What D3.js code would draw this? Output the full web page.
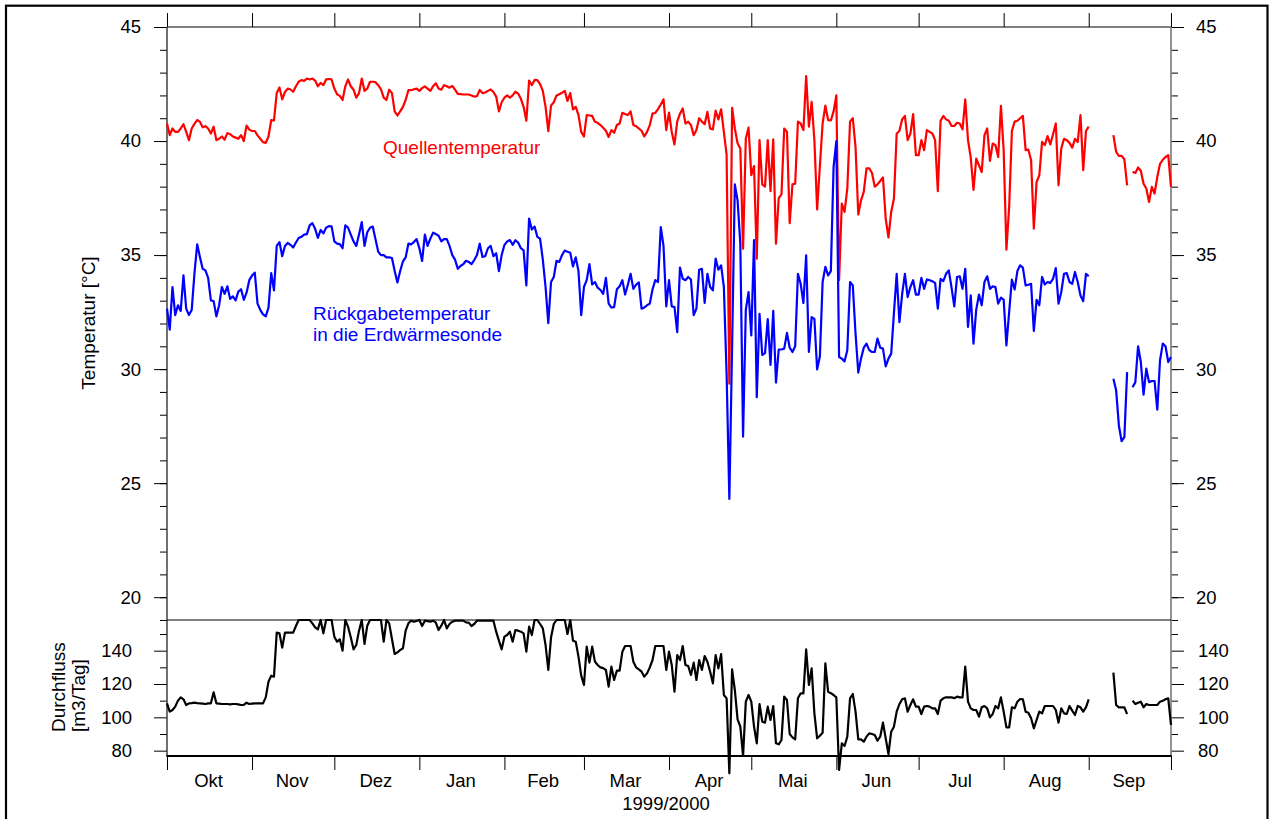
<!DOCTYPE html>
<html><head><meta charset="utf-8">
<script src="https://cdn.jsdelivr.net/npm/d3@7"></script>
<style>
html,body{margin:0;padding:0;background:#fff;}
svg{display:block;font-family:"Liberation Sans",Arial,Helvetica,sans-serif;}
</style></head><body>
<svg id="chart" width="1274" height="819"></svg>
<script>
// ---------------- DATA ----------------
const startDate = new Date(1999, 9, 1);   // 1999-10-01, one value per day
const endDate   = new Date(2000, 9, 1);   // 2000-10-01
const monthLabels = ["Okt","Nov","Dez","Jan","Feb","Mar","Apr","Mai","Jun","Jul","Aug","Sep"];
const xTitle = "1999/2000";
const tempMajorTicks = [20, 25, 30, 35, 40, 45];
const tempMinorTicks = [19,20,21,22,23,24,25,26,27,28,29,30,31,32,33,34,35,36,37,38,39,40,41,42,43,44,45];
const flowMajorTicks = [80, 100, 120, 140];
const flowMinorTicks = [90, 110, 130, 150];

// Quellentemperatur [°C]
const quellentemperatur = [
40.77,40.26,40.55,40.4,40.4,40.55,40.74,40.4,40.04,40.55,
40.75,40.92,40.85,40.6,40.65,40.55,40.33,40.63,40.04,40.1,
40.2,40.06,40.35,40.3,40.2,40.15,40.1,40.26,40.0,40.68,
40.5,40.44,40.44,40.25,40.1,39.95,39.92,40.2,40.92,40.9,
42.1,42.35,41.83,42.15,42.3,42.26,42.16,42.4,42.6,42.67,
42.64,42.74,42.7,42.74,42.65,42.4,42.55,42.45,42.7,42.72,
42.7,42.3,42.05,41.98,41.8,42.4,42.7,42.4,42.25,41.9,
42.1,42.74,42.2,42.3,42.6,42.6,42.58,42.45,42.27,41.9,
41.8,42.25,42.1,41.3,41.12,41.3,41.5,41.8,42.23,42.23,
42.27,42.3,42.2,42.32,42.4,42.3,42.2,42.4,42.53,42.3,
42.25,42.45,42.4,42.34,42.42,42.25,42.07,42.06,42.04,42.04,
42.04,42.0,41.95,41.97,42.24,42.1,42.13,42.2,42.26,42.15,
41.95,41.3,41.7,41.9,42.0,41.9,42.0,42.16,42.08,41.85,
41.5,40.89,42.65,42.45,42.68,42.67,42.5,42.2,41.5,40.43,
41.55,41.7,42.0,42.05,42.12,42.2,41.76,42.1,41.39,41.5,
41.14,40.4,40.2,41.14,41.12,41.1,40.85,40.8,40.7,40.58,
40.45,40.18,40.48,40.36,40.7,40.77,41.24,41.19,41.14,41.3,
40.7,40.65,40.55,40.45,40.2,40.4,40.7,41.21,41.23,41.4,
41.6,41.83,40.48,41.25,40.4,39.85,40.85,41.2,41.43,40.77,
40.85,40.7,40.26,40.48,41.0,40.85,40.74,41.28,40.55,40.51,
41.33,40.95,41.39,40.4,39.4,29.36,41.46,40.55,39.9,39.67,
35.28,40.1,40.59,38.5,38.9,34.84,40.04,38.1,38.0,40.04,
37.8,40.07,35.5,37.5,37.66,40.55,40.4,36.4,38.1,38.13,
40.85,40.77,40.48,42.85,40.63,41.72,40.04,37.0,38.9,40.77,
41.55,40.92,40.9,41.3,42.0,33.9,37.26,36.89,37.92,40.85,
41.0,39.74,36.78,37.4,37.77,38.8,38.8,38.6,38.0,38.1,
38.25,38.4,36.6,35.77,36.89,37.48,40.33,40.44,40.95,41.1,
40.04,40.33,41.18,39.38,39.38,40.04,39.6,40.48,40.4,40.33,
40.04,37.8,40.89,41.1,40.95,40.89,40.66,40.66,40.8,40.77,
40.51,41.83,40.04,39.27,37.86,39.23,38.94,38.64,40.26,40.55,
39.13,39.89,39.82,39.3,41.54,39.6,35.24,37.1,40.44,40.85,
40.89,41.0,41.1,39.6,39.62,39.16,36.16,38.2,38.5,39.96,
39.82,40.22,39.85,40.3,40.77,38.06,39.67,40.1,40.04,39.92,
39.71,40.1,39.96,41.14,38.72,40.44,40.63,null,null,null,
null,null,null,null,null,40.26,39.53,39.35,39.35,39.2,
38.06,null,38.65,38.6,38.84,38.7,38.13,37.92,37.33,37.99,
37.7,38.42,39.0,39.18,39.3,39.38,37.99
];

// Rückgabetemperatur in die Erdwärmesonde [°C]
const rueckgabetemperatur = [
32.65,31.73,33.6,32.37,32.8,32.55,34.11,32.65,32.37,32.59,
34.18,35.47,34.92,34.4,34.33,34.0,33.01,32.98,32.31,32.8,
33.6,33.3,33.63,33.08,33.19,33.01,33.4,33.5,33.04,33.35,
33.9,34.1,34.23,32.87,32.6,32.4,32.31,32.7,34.21,33.45,
35.4,35.57,34.95,35.4,35.53,35.45,35.33,35.55,35.75,35.8,
35.9,35.92,36.3,36.4,36.15,35.75,36.1,35.95,36.2,36.27,
36.26,35.6,35.5,35.48,35.3,36.3,36.2,35.9,35.6,35.4,
35.9,36.45,35.4,36.0,36.2,36.25,35.7,35.15,35.0,35.0,
34.9,34.9,34.87,34.3,33.8,34.3,34.72,34.9,35.5,35.47,
35.57,35.7,35.3,34.74,35.9,35.4,35.72,35.98,35.92,35.85,
35.6,35.7,35.7,35.4,35.0,34.8,34.4,34.52,34.6,34.75,
34.7,34.6,34.78,35.0,35.5,34.92,34.95,35.3,35.4,34.95,
35.08,34.3,35.0,35.44,35.6,35.66,35.45,35.65,35.55,35.3,
35.21,33.67,36.6,36.12,36.25,35.8,35.72,34.8,33.6,32.02,
33.82,34.04,34.75,34.7,35.0,35.2,35.15,35.1,34.5,34.9,
34.3,32.37,33.6,33.9,34.6,33.71,33.82,33.57,33.47,33.3,
34.0,32.87,32.7,32.72,33.5,33.63,33.9,33.27,33.7,34.18,
33.52,33.7,33.8,32.65,32.7,32.8,32.87,33.5,33.9,33.82,
36.23,35.4,32.75,33.9,32.75,32.72,31.62,34.45,33.96,33.9,
34.04,33.93,32.37,32.65,34.36,34.4,32.9,34.18,33.6,33.45,
34.85,34.36,34.55,33.6,29.8,24.31,30.97,38.1,37.4,35.5,
27.04,32.6,33.38,31.48,35.66,28.77,32.42,30.62,30.7,32.19,
30.18,32.55,29.41,30.86,30.86,30.9,31.59,30.94,30.75,31.0,
34.18,33.74,32.9,34.99,30.75,32.28,32.2,29.99,30.55,33.82,
34.48,34.11,34.3,38.87,40.0,30.53,30.46,30.34,30.83,33.82,
33.67,31.56,29.85,30.46,30.94,31.12,30.83,30.75,30.75,31.34,
30.94,30.9,30.12,30.46,30.68,32.46,34.18,32.06,33.3,34.18,
33.16,33.6,33.9,33.27,33.27,34.0,33.52,33.93,33.9,33.85,
33.78,32.65,33.96,33.86,34.18,34.33,33.57,32.75,34.04,34.07,
33.52,34.4,31.85,33.23,31.12,32.61,33.27,32.8,33.82,34.07,
33.52,33.63,33.6,32.87,33.13,33.05,31.04,32.5,33.93,33.49,
34.3,34.55,34.45,33.67,33.7,33.74,31.67,33.04,32.8,34.04,
33.71,33.82,33.78,33.96,34.43,32.87,33.38,34.18,34.21,33.82,
33.74,34.26,33.82,33.23,32.98,34.18,34.07,null,null,null,
null,null,null,null,null,29.58,29.07,27.53,26.84,27.02,
29.87,null,29.2,29.43,31.0,30.31,28.88,30.02,29.43,29.48,
29.48,28.22,30.39,31.12,31.0,30.31,30.53
];

// Durchfluss [m3/Tag]
const durchfluss = [
108.4,103.4,104.4,106.4,110,112,110.8,107.4,108.4,108.5,
108.8,108.5,108.4,108.2,108,108.4,108.4,115,108.4,108.2,
108,108,108,107.8,108,108,107.8,107.4,107.5,108.8,
108,108.2,108.4,108.4,108.4,108.4,112,121.4,125,124.4,
150.8,150.4,141.8,150.8,150.8,150.8,150.8,154.8,158.4,158.4,
158.4,158.4,158.4,156.4,154,152.8,158.4,150.4,158.4,158.4,
158.4,148.4,145.4,146.8,140,158.4,154.4,148,140.8,143.4,
152,158.4,144,155,158.4,158.4,158.4,158.4,158.4,145.4,
158.4,156.4,147,138,139,140.4,141.4,152,156.4,158,
157.4,157.8,158.4,154.8,158,157.7,157.4,158,156.8,152.4,
155,158.4,153.4,156,157.4,158,158,158,158,157,
156.8,154.8,156,158,158,158,158,158,158,158,
151.4,146,140.8,148.4,149.4,151.4,145.4,152.4,152,151.4,
150.4,139.4,154.4,149.4,158.4,158.4,156,153.4,143.4,128.4,
148,156,158.4,158.4,158.4,158.4,150,158.4,146,145.4,
136.4,125,119.4,142.4,132.8,142.4,133.4,131.4,130,129.5,
128.4,118.4,130.4,122.4,128,128,139.4,142.8,142.8,142.8,
133.4,130,128.8,127.4,124.4,126.4,130,134.4,142.8,142.8,
142.8,142.8,128.4,139.4,131.4,115.4,137.4,134.4,142.8,131.4,
130.8,125.4,132.8,122.4,134.4,128.4,136.8,133.4,127.4,120.4,
137.4,129.4,138,113.4,111.4,66.4,128.8,116.4,98.8,94.4,
76.8,109.4,113.4,109.4,94.4,84.4,108,97.4,96.8,106.4,
98.4,106.8,84.4,83.8,86.4,112.4,110.4,90,88,86.8,
111.4,114.4,114.4,140.8,119.4,129.4,102.4,87.4,89,90.8,
132.4,115.4,114.5,113.4,112,68.4,84.4,82.8,88.4,111.4,
114,103.4,86.8,86.8,85.4,88.4,90.4,90,89.4,86,
88.4,96.8,87.4,78,91.4,94.4,103.4,108,110.8,111.4,
103.4,107.4,110.8,106.4,106.4,102,106.4,106.8,106.4,105.4,
105.4,102,110,111.4,112,112,112,111.5,112.4,112,
112,130.4,109.4,105.4,104.4,104.4,100.4,106,106.8,105.4,
100,102,106.8,105.4,112,103.4,94,94,106,105.4,
109.4,111,110.8,103.4,102.8,99.4,93.4,98.4,103.4,102.4,
106.8,106.8,106.8,106.8,104.4,96.8,105.4,102.4,102,106.8,
104,101.4,106.8,106,103.4,106,110.8,null,null,null,
null,null,null,null,null,126.8,107.4,106,106,106,
102,null,110,108,108.8,109.4,106,108,107.4,107.4,
107.4,107.4,109.4,110,110.8,111.4,95.4
];

// ---------------- LAYOUT ----------------
const L = 167, R = 1171, T = 27, SEP = 620, B = 756;
const FONT = '"Liberation Sans",Arial,Helvetica,sans-serif';

const svg = d3.select("#chart");

const x  = d3.scaleTime().domain([startDate, endDate]).range([L, R]);
const yT = d3.scaleLinear().domain([19, 45]).range([SEP, T]);
const yF = d3.scaleLinear().domain([76.8, 158.4]).range([B, SEP]);

const toSeries = arr => arr.map((v, i) => ({date: d3.timeDay.offset(startDate, i), v}));
const sQ = toSeries(quellentemperatur);
const sR = toSeries(rueckgabetemperatur);
const sD = toSeries(durchfluss);

// outer frame
svg.append("rect").attr("x", 6).attr("y", 5.7).attr("width", 1261.5).attr("height", 840)
  .attr("fill", "none").attr("stroke", "#000").attr("stroke-width", 2.2);

function styleAxis(g, size) {
  g.select(".domain").remove();
  g.selectAll("line").attr("stroke", "#000").attr("stroke-width", 1);
  g.selectAll("text").attr("font-family", FONT).attr("font-size", size).attr("fill", "#000");
}

// temperature axes
svg.append("g").attr("transform", `translate(${L},0)`)
  .call(d3.axisLeft(yT).tickValues(tempMinorTicks).tickSize(7).tickFormat(""))
  .call(g => styleAxis(g, 18));
svg.append("g").attr("transform", `translate(${L},0)`)
  .call(d3.axisLeft(yT).tickValues(tempMajorTicks).tickSize(13).tickPadding(13).tickFormat(d3.format("d")))
  .call(g => styleAxis(g, 18.5));
svg.append("g").attr("transform", `translate(${R},0)`)
  .call(d3.axisRight(yT).tickValues(tempMinorTicks).tickSize(7).tickFormat(""))
  .call(g => styleAxis(g, 18));
svg.append("g").attr("transform", `translate(${R},0)`)
  .call(d3.axisRight(yT).tickValues(tempMajorTicks).tickSize(13).tickPadding(12).tickFormat(d3.format("d")))
  .call(g => styleAxis(g, 18.5));

// flow axes
svg.append("g").attr("transform", `translate(${L},0)`)
  .call(d3.axisLeft(yF).tickValues(flowMinorTicks).tickSize(7).tickFormat(""))
  .call(g => styleAxis(g, 18));
svg.append("g").attr("transform", `translate(${L},0)`)
  .call(d3.axisLeft(yF).tickValues(flowMajorTicks).tickSize(13).tickPadding(22).tickFormat(d3.format("d")))
  .call(g => styleAxis(g, 18.5));
svg.append("g").attr("transform", `translate(${R},0)`)
  .call(d3.axisRight(yF).tickValues(flowMinorTicks).tickSize(7).tickFormat(""))
  .call(g => styleAxis(g, 18));
svg.append("g").attr("transform", `translate(${R},0)`)
  .call(d3.axisRight(yF).tickValues(flowMajorTicks).tickSize(13).tickPadding(14).tickFormat(d3.format("d")))
  .call(g => styleAxis(g, 18.5));

// month ticks top & bottom
const monthStarts = d3.timeMonth.range(startDate, d3.timeDay.offset(endDate, 1));
svg.append("g").attr("transform", `translate(0,${B})`)
  .call(d3.axisBottom(x).tickValues(monthStarts).tickSize(14).tickFormat(""))
  .call(g => styleAxis(g, 18));
svg.append("g").attr("transform", `translate(0,${T})`)
  .call(d3.axisTop(x).tickValues(monthStarts).tickSize(14).tickFormat(""))
  .call(g => styleAxis(g, 18));

// month labels
const months = d3.timeMonth.range(startDate, endDate);
svg.append("g").selectAll("text").data(months).join("text")
  .attr("x", d => (x(d) + x(d3.timeMonth.offset(d, 1))) / 2 - 1)
  .attr("y", 787)
  .attr("text-anchor", "middle")
  .attr("font-family", FONT).attr("font-size", 18.5).attr("fill", "#000")
  .text((d, i) => monthLabels[i]);

svg.append("text").attr("x", 666).attr("y", 810).attr("text-anchor", "middle")
  .attr("font-family", FONT).attr("font-size", 18.5).text(xTitle);

// frame lines
const frame = svg.append("g").attr("fill", "none");
frame.append("line").attr("x1", L).attr("x2", R).attr("y1", T).attr("y2", T).attr("stroke", "#000").attr("stroke-width", 1.2);
frame.append("line").attr("x1", L).attr("x2", L).attr("y1", T).attr("y2", B).attr("stroke", "#333").attr("stroke-width", 1.4);
frame.append("line").attr("x1", R).attr("x2", R).attr("y1", T).attr("y2", B).attr("stroke", "#808080").attr("stroke-width", 1.7);
frame.append("line").attr("x1", L).attr("x2", R).attr("y1", SEP).attr("y2", SEP).attr("stroke", "#000").attr("stroke-width", 1);
frame.append("line").attr("x1", L - 0.6).attr("x2", R + 0.6).attr("y1", B).attr("y2", B).attr("stroke", "#000").attr("stroke-width", 1.8);

// y titles
svg.append("text").attr("transform", "translate(95,323) rotate(-90)")
  .attr("text-anchor", "middle").attr("font-family", FONT).attr("font-size", 19)
  .text("Temperatur [°C]");
svg.append("text").attr("transform", "translate(65,732) rotate(-90)")
  .attr("text-anchor", "start").attr("font-family", FONT).attr("font-size", 19)
  .text("Durchfluss");
svg.append("text").attr("transform", "translate(85,732) rotate(-90)")
  .attr("text-anchor", "start").attr("font-family", FONT).attr("font-size", 19)
  .text("[m3/Tag]");

// lines
const lineT = d3.line().defined(d => d.v != null).x(d => x(d.date)).y(d => yT(d.v));
const lineF = d3.line().defined(d => d.v != null).x(d => x(d.date)).y(d => yF(d.v));

svg.append("path").datum(sQ).attr("d", lineT)
  .attr("fill", "none").attr("stroke", "#ff0000").attr("stroke-width", 2.2).attr("stroke-linejoin", "round");
svg.append("path").datum(sR).attr("d", lineT)
  .attr("fill", "none").attr("stroke", "#0000ff").attr("stroke-width", 2.2).attr("stroke-linejoin", "round");
svg.append("path").datum(sD).attr("d", lineF)
  .attr("fill", "none").attr("stroke", "#000").attr("stroke-width", 2.2).attr("stroke-linejoin", "round");

// labels
svg.append("text").attr("x", 383).attr("y", 154)
  .attr("font-family", FONT).attr("font-size", 19).attr("fill", "#ff0000")
  .text("Quellentemperatur");
svg.append("text").attr("x", 313).attr("y", 319.5)
  .attr("font-family", FONT).attr("font-size", 19).attr("fill", "#0000ff")
  .text("Rückgabetemperatur");
svg.append("text").attr("x", 313).attr("y", 341)
  .attr("font-family", FONT).attr("font-size", 19).attr("fill", "#0000ff")
  .text("in die Erdwärmesonde");
</script>
</body></html>
